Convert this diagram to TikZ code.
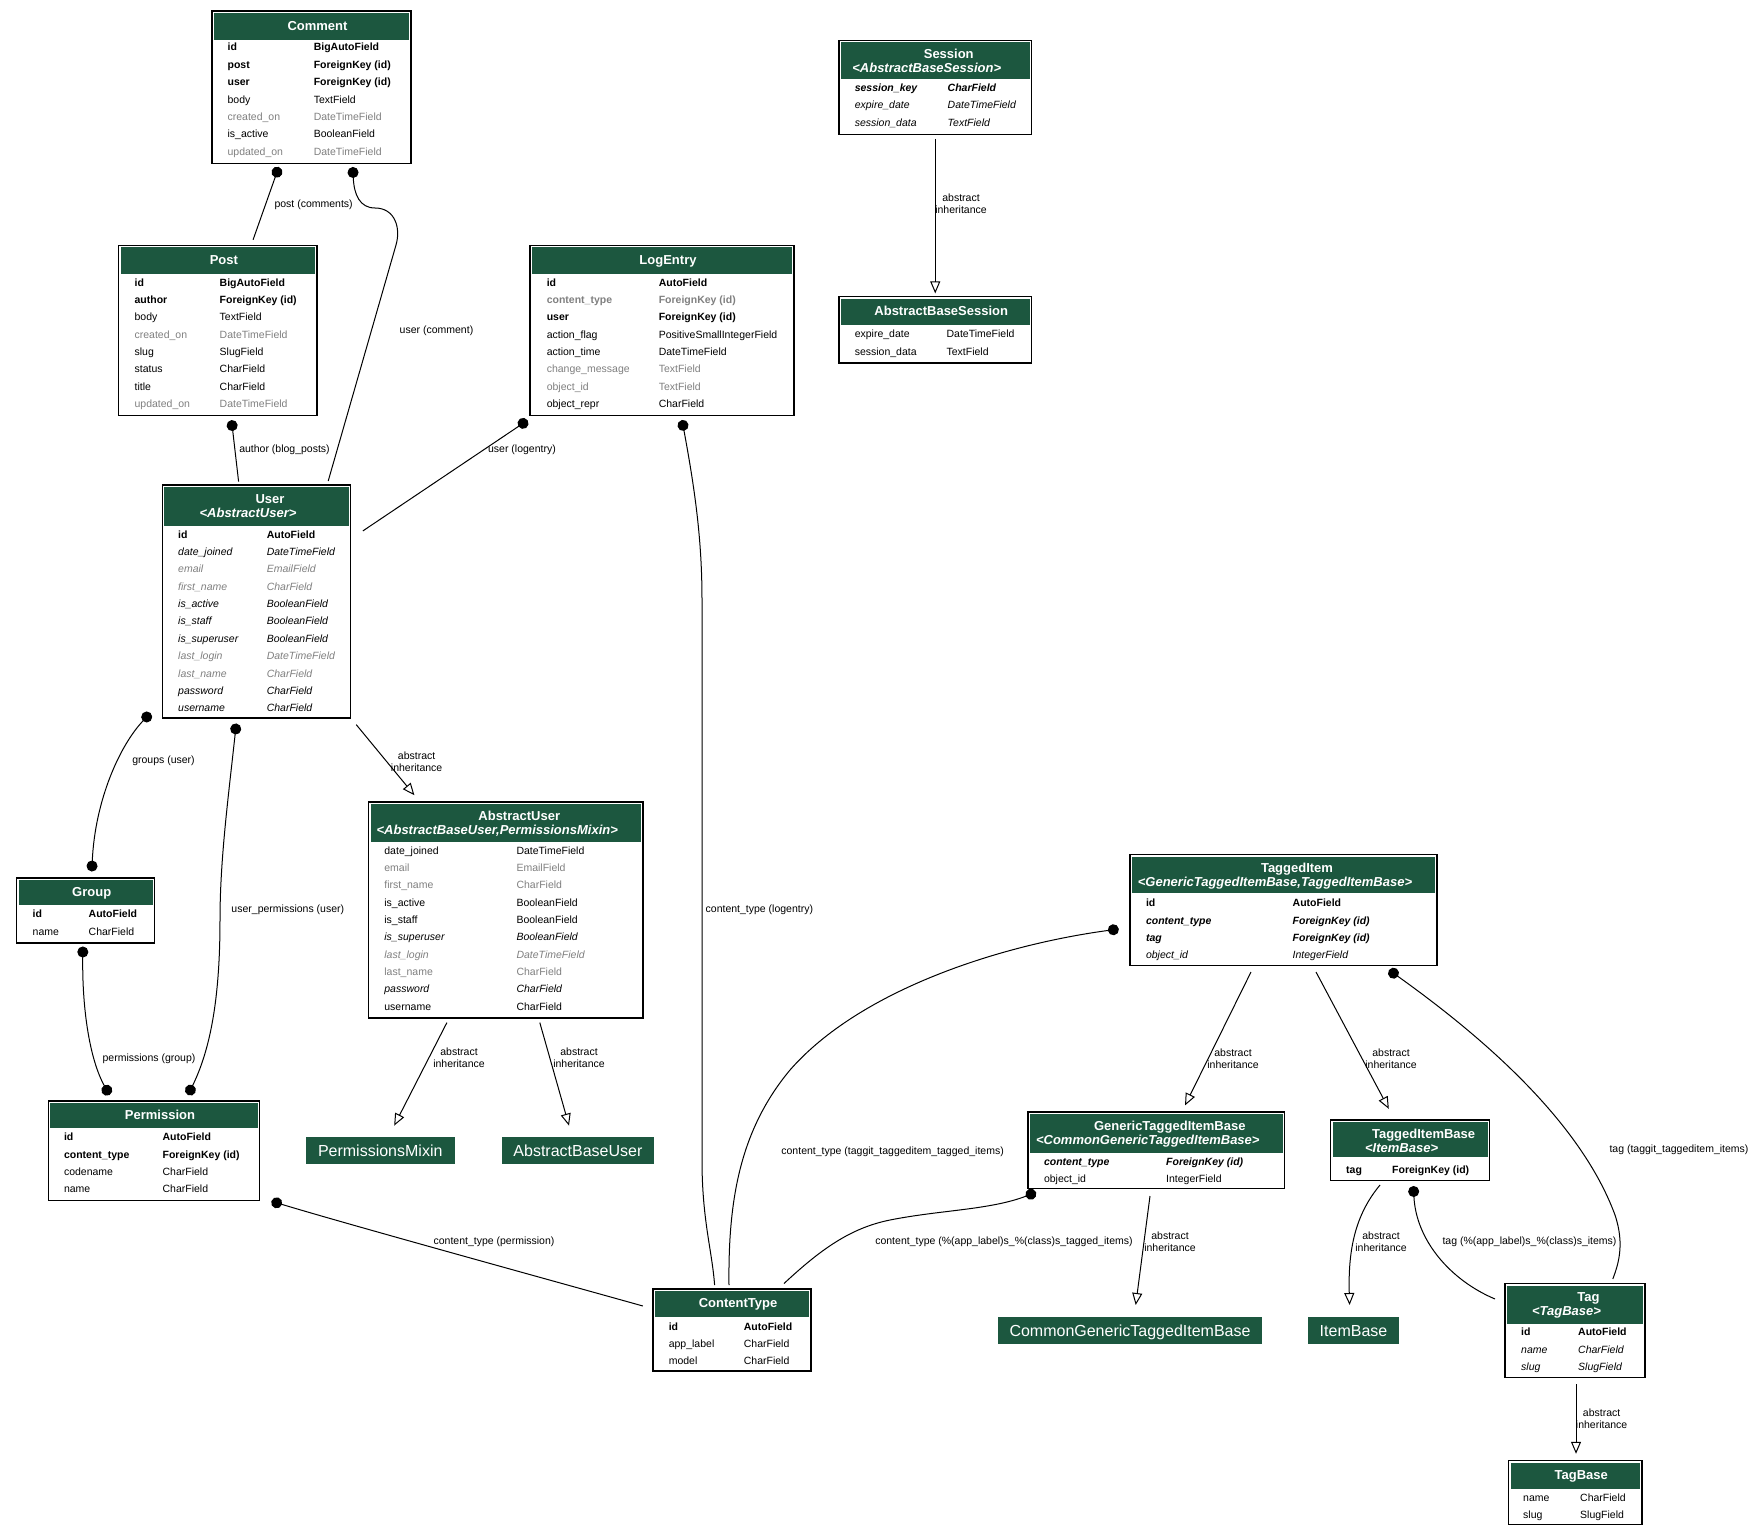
\documentclass[tikz,border=0pt]{standalone}
\usepackage{fontspec}
\setmainfont{Liberation Sans}
\usepackage{tikz}
\usetikzlibrary{positioning,arrows.meta,fit}

\definecolor{hdrgreen}{HTML}{1C573F}
\definecolor{fldgray}{HTML}{808080}

\newcommand\fldfont{\fontsize{10.5}{12.6}\selectfont}
\newcommand\hdrfont{\fontsize{13}{15}\selectfont\bfseries}

% frame of a model: name, x1, y1, x2, y2, header height
\newcommand\modelframe[6]{%
  \node[modelbox, fit={(#2,#3) (#4,#5)}] (#1) {};
  \fill[hdrgreen] ([shift={(2,2)}]#1.north west) rectangle ([shift={(-2,#6)}]#1.north east);
  \draw[boxline] (#1.south west) rectangle (#1.north east);
}
% one-line header: name, header height, title
\newcommand\modeltitle[3]{%
  \node[hdrtext] (#1-title) at ([shift={(6,0.5*#2)}]#1.north) {#3};
}
% two-line header: name, title, parent
\newcommand\modeltitles[3]{%
  \node[hdrtext] (#1-title) at ([shift={(13.5,13.5)}]#1.north) {#2};
  \node[hdrtext, font=\hdrfont\itshape] (#1-sub) at ([shift={(-8.5,27.5)}]#1.north) {#3};
}
% rows: name, column 1 x, column 2 x, first row y, list
\newcommand\fields[5]{%
  \foreach \fname/\ftype/\fsty [count=\i] in {#5}{
    \node[fld, \fsty] (#1-n\i) at (#2, #4+17.35*\i-17.35) {\fname};
    \node[fld, \fsty] (#1-t\i) at (#3, #4+17.35*\i-17.35) {\ftype};
  }
}

\begin{document}
\begin{tikzpicture}[
    x=1pt, y=-1pt,
    modelbox/.style={inner sep=0pt, outer sep=0pt},
    boxline/.style={line width=1.1pt},
    hdrtext/.style={text=white, font=\hdrfont, inner sep=0pt, text height=9.3pt, text depth=0pt},
    plainbox/.style={fill=hdrgreen, text=white, inner sep=0pt, outer sep=0pt, font=\fontsize{16}{19}\selectfont, text height=11.5pt, text depth=0pt},
    fld/.style={anchor=west, inner sep=0pt, font=\fldfont, text height=7.6pt, text depth=0pt},
    fnorm/.style={},
    fbold/.style={font=\fldfont\bfseries},
    fital/.style={font=\fldfont\itshape},
    fboldit/.style={font=\fldfont\bfseries\itshape},
    fgray/.style={text=fldgray},
    fgrayit/.style={fgray, fital},
    fgraybold/.style={fgray, fbold},
    elabel/.style={font=\fontsize{10.5}{12.3}\selectfont, align=center, inner sep=0pt},
    fk/.style={line width=1pt, {Circle[length=11pt]}-},
    mm/.style={line width=1pt, {Circle[length=11pt]}-{Circle[length=11pt]}},
    inh/.style={line width=1pt, -{Triangle[open, length=12pt, width=10pt]}}
]
\path[use as bounding box, fill=white] (0,0) rectangle (1756,1536);

% blog
\modelframe{comment}{212}{11}{411}{163.5}{29.5}
\modeltitle{comment}{29.5}{Comment}
\fields{comment}{227.4}{313.6}{47.2}{id/BigAutoField/fbold, post/ForeignKey (id)/fbold, user/ForeignKey (id)/fbold, body/TextField/fnorm, created\_on/DateTimeField/fgray, is\_active/BooleanField/fnorm, updated\_on/DateTimeField/fgray}

\modelframe{post}{118.7}{245.3}{317}{415.5}{29}
\modeltitle{post}{29}{Post}
\fields{post}{134.4}{219.5}{282.4}{id/BigAutoField/fbold, author/ForeignKey (id)/fbold, body/TextField/fnorm, created\_on/DateTimeField/fgray, slug/SlugField/fnorm, status/CharField/fnorm, title/CharField/fnorm, updated\_on/DateTimeField/fgray}

% admin
\modelframe{logentry}{530}{245.3}{794}{415.5}{29}
\modeltitle{logentry}{29}{LogEntry}
\fields{logentry}{546.6}{658.6}{282.4}{id/AutoField/fbold, content\_type/ForeignKey (id)/fgraybold, user/ForeignKey (id)/fbold, action\_flag/PositiveSmallIntegerField/fnorm, action\_time/DateTimeField/fnorm, change\_message/TextField/fgray, object\_id/TextField/fgray, object\_repr/CharField/fnorm}

% sessions
\modelframe{session}{839}{40.3}{1031.5}{134.4}{39}
\modeltitles{session}{Session}{<AbstractBaseSession>}
\fields{session}{854.6}{947.5}{87.6}{session\_key/CharField/fboldit, expire\_date/DateTimeField/fital, session\_data/TextField/fital}

\modelframe{absbasesession}{839}{296.8}{1031.5}{363}{28}
\modeltitle{absbasesession}{28}{AbstractBaseSession}
\fields{absbasesession}{854.6}{946.4}{334}{expire\_date/DateTimeField/fnorm, session\_data/TextField/fnorm}

% auth
\modelframe{user}{162.4}{485}{350.6}{718}{41}
\modeltitles{user}{User}{<AbstractUser>}
\fields{user}{178}{266.6}{534.4}{id/AutoField/fbold, date\_joined/DateTimeField/fital, email/EmailField/fgrayit, first\_name/CharField/fgrayit, is\_active/BooleanField/fital, is\_staff/BooleanField/fital, is\_superuser/BooleanField/fital, last\_login/DateTimeField/fgrayit, last\_name/CharField/fgrayit, password/CharField/fital, username/CharField/fital}

\modelframe{abstractuser}{368.5}{802}{643}{1018}{40}
\modeltitles{abstractuser}{AbstractUser}{<AbstractBaseUser,PermissionsMixin>}
\fields{abstractuser}{384.2}{516.3}{850.3}{date\_joined/DateTimeField/fnorm, email/EmailField/fgray, first\_name/CharField/fgray, is\_active/BooleanField/fnorm, is\_staff/BooleanField/fnorm, is\_superuser/BooleanField/fital, last\_login/DateTimeField/fgrayit, last\_name/CharField/fgray, password/CharField/fital, username/CharField/fnorm}

\modelframe{group}{16.8}{878}{154.6}{943}{27}
\modeltitle{group}{27}{Group}
\fields{group}{32.5}{88.5}{914}{id/AutoField/fbold, name/CharField/fnorm}

\modelframe{permission}{48.2}{1101}{259.8}{1200.6}{27}
\modeltitle{permission}{27}{Permission}
\fields{permission}{63.8}{162.4}{1137}{id/AutoField/fbold, content\_type/ForeignKey (id)/fbold, codename/CharField/fnorm, name/CharField/fnorm}

\node[plainbox, minimum width=148.9pt, minimum height=26.9pt] (pmixin) at (380.25,1150.25) {PermissionsMixin};
\node[plainbox, minimum width=152.2pt, minimum height=26.9pt] (abstractbaseuser) at (577.9,1150.25) {AbstractBaseUser};

% contenttypes
\modelframe{contenttype}{653}{1289}{811}{1371}{28}
\modeltitle{contenttype}{28}{ContentType}
\fields{contenttype}{668.6}{743.7}{1326.2}{id/AutoField/fbold, app\_label/CharField/fnorm, model/CharField/fnorm}

% taggit
\modelframe{taggeditem}{1130}{854.6}{1437}{965.4}{38}
\modeltitles{taggeditem}{TaggedItem}{<GenericTaggedItemBase,TaggedItemBase>}
\fields{taggeditem}{1145.8}{1292.5}{902.9}{id/AutoField/fbold, content\_type/ForeignKey (id)/fboldit, tag/ForeignKey (id)/fboldit, object\_id/IntegerField/fital}

\modelframe{generic}{1028}{1112}{1284.6}{1188.3}{41}
\modeltitles{generic}{GenericTaggedItemBase}{<CommonGenericTaggedItemBase>}
\fields{generic}{1043.8}{1166}{1161.6}{content\_type/ForeignKey (id)/fboldit, object\_id/IntegerField/fnorm}

\modelframe{taggeditembase}{1330.6}{1120}{1489.6}{1180.5}{37}
\modeltitles{taggeditembase}{TaggedItemBase}{<ItemBase>}
\fields{taggeditembase}{1346}{1392}{1169.5}{tag/ForeignKey (id)/fbold}

\modelframe{tag}{1505}{1283.5}{1645}{1377.6}{40.5}
\modeltitles{tag}{Tag}{<TagBase>}
\fields{tag}{1521}{1578}{1331.9}{id/AutoField/fbold, name/CharField/fital, slug/SlugField/fital}

\modelframe{tagbase}{1508.6}{1460.5}{1642}{1524.3}{28}
\modeltitle{tagbase}{28}{TagBase}
\fields{tagbase}{1523}{1580}{1497.6}{name/CharField/fnorm, slug/SlugField/fnorm}

\node[plainbox, minimum width=264pt, minimum height=27pt] (commongeneric) at (1130,1330.5) {CommonGenericTaggedItemBase};
\node[plainbox, minimum width=91pt, minimum height=27pt] (itembase) at (1353.5,1330.5) {ItemBase};

% foreign keys
\draw[fk] ([shift={(66.8,3.5)}]comment.south west) -- ([shift={(134.4,-5.6)}]post.north west);
\node[elabel] (l-postcomments) at (313.6,205) {post (comments)};

\draw[fk] ([shift={(140.8,3.5)}]comment.south west) .. controls (354,195) and (360,208) .. (375,208)
  .. controls (395,208) and (401,228) .. (396,245) -- ([shift={(165.8,-4)}]user.north west);
\node[elabel] (l-usercomment) at (436.5,330.7) {user (comment)};

\draw[fk] ([shift={(112.8,4.6)}]post.south west) -- ([shift={(76.2,-3.4)}]user.north west);
\node[elabel] (l-author) at (284.5,450) {author (blog\_posts)};

\draw[fk] ([shift={(-2.4,4.8)}]logentry.south west) -- ([shift={(12.3,45.9)}]user.north east);
\node[elabel] (l-userlog) at (522,450) {user (logentry)};

\draw[fk] ([shift={(152,4.5)}]logentry.south west) .. controls (695,490) and (702,540) .. (702,600)
  -- (702,1160) .. controls (702,1220) and (712,1250) .. ([shift={(61.6,-4)}]contenttype.north west);
\node[elabel] (l-ctlog) at (759.4,909.4) {content\_type (logentry)};

\draw[mm] ([shift={(-11.9,-5)}]user.south west) .. controls (120,745) and (95,800) .. ([shift={(75,-6.5)}]group.north west);
\node[elabel] (l-groups) at (163.5,760.5) {groups (user)};

\draw[mm] ([shift={(73.9,5.5)}]user.south west) .. controls (228,800) and (220,860) .. (220,920)
  .. controls (220,1000) and (210,1050) .. ([shift={(139.8,-6)}]permission.north west);
\node[elabel] (l-userperm) at (287.8,909.4) {user\_permissions (user)};

\draw[mm] ([shift={(66.1,3.5)}]group.south west) .. controls (82,1010) and (90,1060) .. ([shift={(61.3,-6)}]permission.north west);
\node[elabel] (l-permgroup) at (149,1058.4) {permissions (group)};

\draw[fk] ([shift={(11.6,0.6)}]permission.south east) .. controls (350,1225) and (550,1280) .. ([shift={(-10.1,17)}]contenttype.north west);
\node[elabel] (l-ctperm) at (494,1242) {content\_type (permission)};

\draw[fk] ([shift={(-11.2,74.4)}]taggeditem.north west) .. controls (1000,945) and (860,990) .. (790,1070)
  .. controls (740,1130) and (728,1200) .. ([shift={(76,-4)}]contenttype.north west);
\node[elabel] (l-cttagged) at (892.6,1151.4) {content\_type (taggit\_taggeditem\_tagged\_items)};

\draw[fk] ([shift={(259,4.6)}]taggeditem.south west) .. controls (1480,1035) and (1580,1120) .. (1615,1215)
  .. controls (1625,1245) and (1618,1265) .. ([shift={(107.8,-4.5)}]tag.north west);
\node[elabel] (l-tagitems) at (1679,1150) {tag (taggit\_taggeditem\_items)};

\draw[fk] ([shift={(8,4)}]generic.south west) .. controls (990,1210) and (940,1210) .. (890,1220)
  .. controls (850,1228) and (820,1250) .. ([shift={(131,-5.5)}]contenttype.north west);
\node[elabel] (l-ctgeneric) at (1004,1242) {content\_type (\%(app\_label)s\_\%(class)s\_tagged\_items)};

\draw[fk] ([shift={(82.8,5.5)}]taggeditembase.south west) .. controls (1416,1240) and (1450,1280) .. ([shift={(-10,15.5)}]tag.north west);
\node[elabel] (l-taggeneric) at (1529.5,1242) {tag (\%(app\_label)s\_\%(class)s\_items)};

% abstract inheritance
\draw[inh] ([shift={(0,4.5)}]session.south) -- ([shift={(0,-3.4)}]absbasesession.north);
\node[elabel] (l-inh1) at (961,204) {abstract\\inheritance};

\draw[inh] ([shift={(5.6,6.6)}]user.south east) -- ([shift={(45.9,-6.8)}]abstractuser.north west);
\node[elabel] (l-inh2) at (416.6,761.6) {abstract\\inheritance};

\draw[inh] ([shift={(78.4,4.6)}]abstractuser.south west) -- ([shift={(88.4,-11.2)}]pmixin.north west);
\node[elabel] (l-inh3) at (459,1058) {abstract\\inheritance};

\draw[inh] ([shift={(171.3,4.6)}]abstractuser.south west) -- ([shift={(67.2,-11.2)}]abstractbaseuser.north west);
\node[elabel] (l-inh4) at (579,1058) {abstract\\inheritance};

\draw[inh] ([shift={(121,6.6)}]taggeditem.south west) -- ([shift={(157,-6.6)}]generic.north west);
\node[elabel] (l-inh5) at (1233,1058.4) {abstract\\inheritance};

\draw[inh] ([shift={(186,6.6)}]taggeditem.south west) -- ([shift={(58.2,-11.2)}]taggeditembase.north west);
\node[elabel] (l-inh6) at (1391,1058.4) {abstract\\inheritance};

\draw[inh] ([shift={(122,7.7)}]generic.south west) -- ([shift={(137.7,-12)}]commongeneric.north west);
\node[elabel] (l-inh7) at (1170,1242) {abstract\\inheritance};

\draw[inh] ([shift={(49.4,4.5)}]taggeditembase.south west) .. controls (1355,1215) and (1348,1250) .. ([shift={(41.6,-12)}]itembase.north west);
\node[elabel] (l-inh8) at (1381,1242) {abstract\\inheritance};

\draw[inh] ([shift={(71,6.4)}]tag.south west) -- ([shift={(67.4,-6.7)}]tagbase.north west);
\node[elabel] (l-inh9) at (1601.6,1419) {abstract\\inheritance};

\end{tikzpicture}
\end{document}
